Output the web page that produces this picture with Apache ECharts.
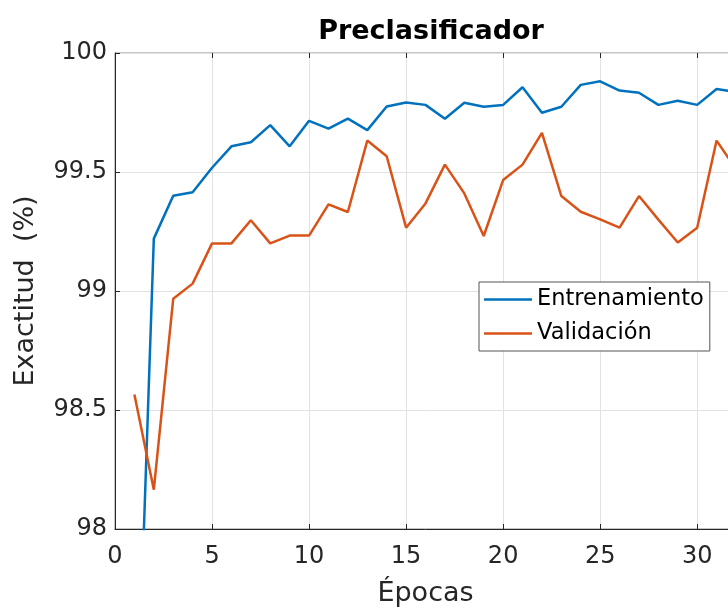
<!DOCTYPE html>
<html>
<head>
<meta charset="utf-8">
<script src="https://cdn.jsdelivr.net/npm/echarts@6/dist/echarts.min.js"></script>
<style>
  html, body { margin: 0; padding: 0; overflow: hidden; background: #ffffff; }
  #chart { width: 760px; height: 612px; }
</style>
</head>
<body>
<div id="chart"></div>
<script>
// Training and validation accuracy (%) per epoch
const epochs = [1, 2, 3, 4, 5, 6, 7, 8, 9, 10, 11, 12, 13, 14, 15, 16,
                17, 18, 19, 20, 21, 22, 23, 24, 25, 26, 27, 28, 29, 30, 31, 32];
const entrenamiento = [96.83, 99.22, 99.40, 99.415, 99.518, 99.608, 99.625, 99.697,
                       99.608, 99.715, 99.682, 99.724, 99.676, 99.775, 99.792, 99.782,
                       99.724, 99.791, 99.774, 99.782, 99.856, 99.749, 99.774, 99.866,
                       99.881, 99.842, 99.833, 99.782, 99.799, 99.782, 99.849, 99.836];
const validacion = [98.565, 98.165, 98.967, 99.031, 99.20, 99.20, 99.297, 99.20,
                    99.233, 99.233, 99.364, 99.332, 99.632, 99.566, 99.266, 99.368,
                    99.531, 99.41, 99.231, 99.466, 99.531, 99.664, 99.399, 99.333,
                    99.301, 99.266, 99.399, 99.30, 99.204, 99.266, 99.632, 99.512];
const seriesNames = ['Entrenamiento', 'Validación'];

const FONT = 'DejaVu Sans';
const INK = '#262626';

const pairs = vals => epochs.map((e, i) => [e, vals[i]]);

const chart = echarts.init(document.getElementById('chart'));
chart.setOption({
  animation: false,
  backgroundColor: '#ffffff',
  title: {
    text: 'Preclasificador',
    left: 426,
    textAlign: 'center',
    top: 13,
    textStyle: { fontFamily: FONT, fontSize: 27, fontWeight: 'bold', color: '#000000' }
  },
  grid: {
    left: 115, top: 53, right: 24, bottom: 81,
    show: true, borderColor: '#8a8a8a', borderWidth: 1, backgroundColor: '#ffffff'
  },
  legend: {
    data: seriesNames,
    orient: 'vertical',
    left: 479,
    top: 282,
    padding: [6, 6, 6, 5],
    icon: 'rect',
    itemWidth: 48,
    itemHeight: 2.5,
    itemGap: 11,
    backgroundColor: '#ffffff',
    borderColor: '#555555',
    borderWidth: 1,
    textStyle: { fontFamily: FONT, fontSize: 22.5, color: '#000000' }
  },
  xAxis: [{
    type: 'value',
    min: 0, max: 32, interval: 5,
    name: 'Épocas',
    nameLocation: 'middle',
    nameGap: 51,
    nameTextStyle: { fontFamily: FONT, fontSize: 27, color: INK },
    axisLine: { show: true, lineStyle: { color: INK, width: 1 } },
    axisTick: { show: true, inside: true, length: 5, lineStyle: { color: INK } },
    axisLabel: { fontFamily: FONT, fontSize: 24, color: INK, margin: 16, showMaxLabel: false },
    splitLine: { show: true, lineStyle: { color: '#e2e2e2', width: 1 } }
  }, {
    type: 'value',
    position: 'top',
    min: 0, max: 32, interval: 5,
    axisLine: { show: false },
    axisTick: { show: true, inside: true, length: 5, lineStyle: { color: INK } },
    axisLabel: { show: false },
    splitLine: { show: false }
  }],
  yAxis: {
    type: 'value',
    min: 98, max: 100, interval: 0.5,
    name: 'Exactitud  (%)',
    nameLocation: 'middle',
    nameGap: 76,
    nameTextStyle: { fontFamily: FONT, fontSize: 27, color: INK },
    axisLine: { show: true, lineStyle: { color: INK, width: 1 } },
    axisTick: { show: true, inside: true, length: 5, lineStyle: { color: INK } },
    axisLabel: { fontFamily: FONT, fontSize: 24, color: INK, margin: 8 },
    splitLine: { show: true, lineStyle: { color: '#e2e2e2', width: 1 } }
  },
  series: [{
    name: seriesNames[0],
    type: 'line',
    data: pairs(entrenamiento),
    symbol: 'none',
    clip: true,
    lineStyle: { color: '#0072BD', width: 2.5 },
    itemStyle: { color: '#0072BD' },
    z: 3
  }, {
    name: seriesNames[1],
    type: 'line',
    data: pairs(validacion),
    symbol: 'none',
    clip: true,
    lineStyle: { color: '#D95319', width: 2.5 },
    itemStyle: { color: '#D95319' },
    z: 3
  }]
});
</script>
</body>
</html>
